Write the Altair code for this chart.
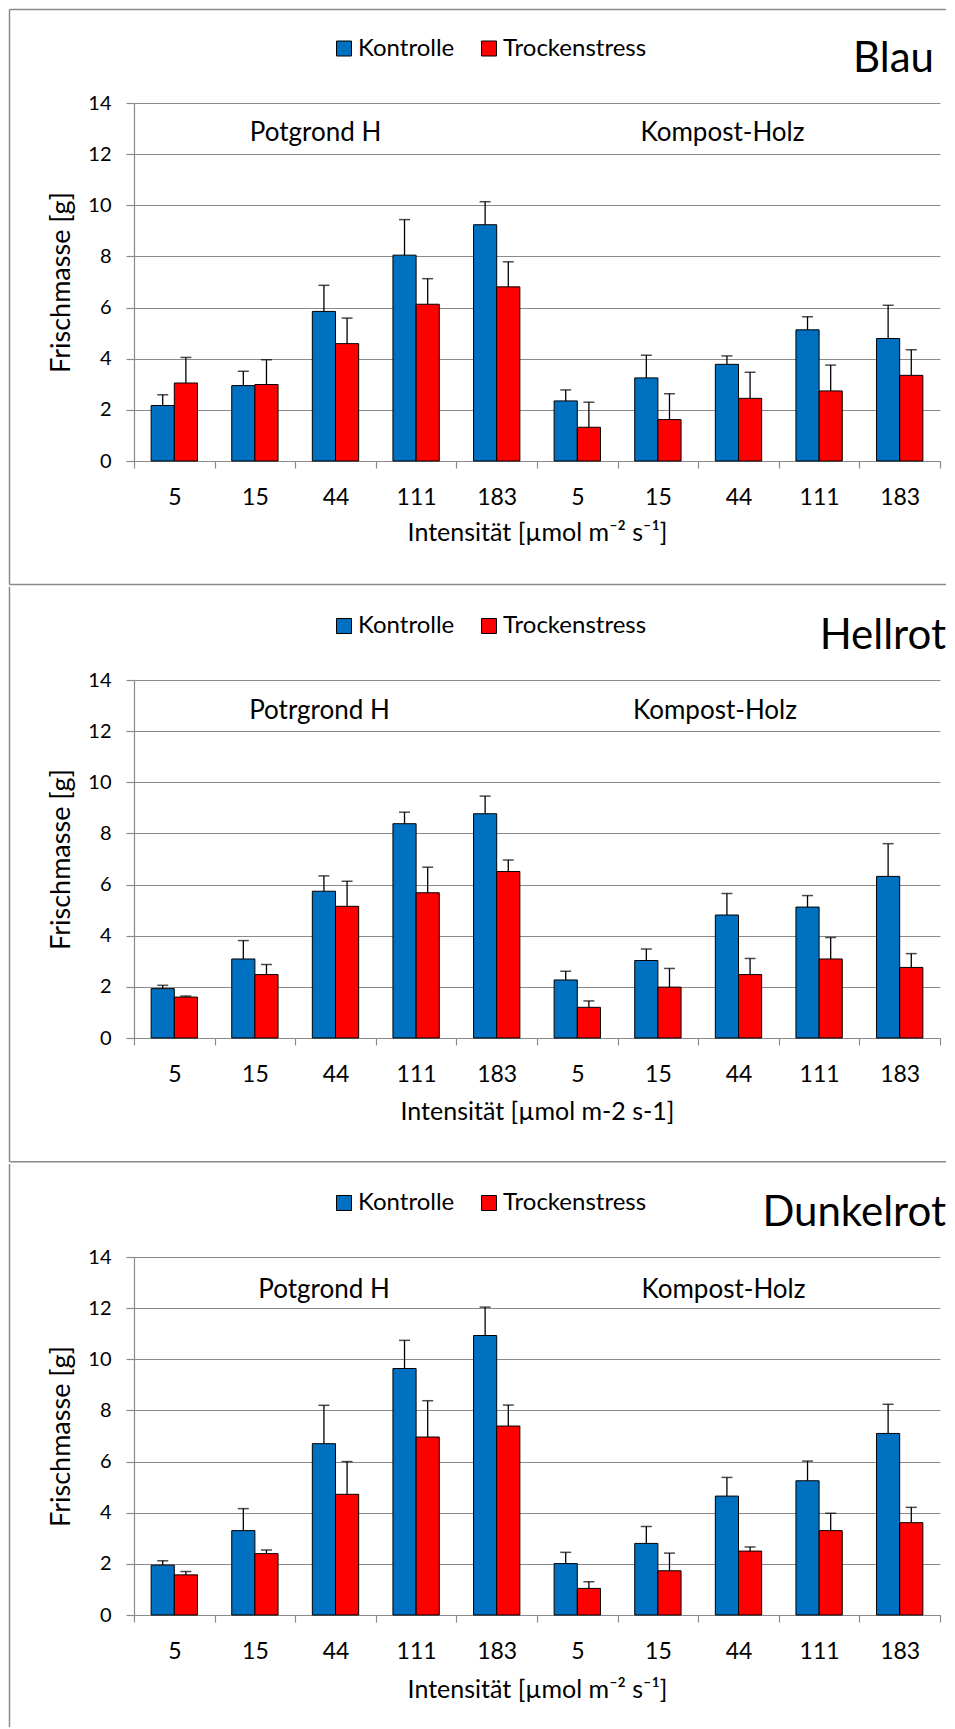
import altair as alt
import pandas as pd

positions = ["P-5", "P-15", "P-44", "P-111", "P-183", "K-5", "K-15", "K-44", "K-111", "K-183"]
groups = ["Kontrolle", "Trockenstress"]
colors = ["#0070C0", "#FF0000"]

blau_k = [2.17, 2.95, 5.85, 8.05, 9.24, 2.35, 3.25, 3.78, 5.13, 4.79]
blau_k_err = [0.42, 0.56, 1.02, 1.39, 0.90, 0.43, 0.89, 0.33, 0.51, 1.30]
blau_t = [3.05, 2.99, 4.59, 6.13, 6.81, 1.32, 1.62, 2.45, 2.74, 3.35]
blau_t_err = [1.00, 0.97, 1.00, 1.00, 0.98, 0.98, 1.01, 1.02, 1.01, 1.00]

hell_k = [1.93, 3.09, 5.74, 8.38, 8.77, 2.27, 3.03, 4.81, 5.12, 6.32]
hell_k_err = [0.13, 0.72, 0.60, 0.45, 0.69, 0.34, 0.45, 0.84, 0.45, 1.28]
hell_t = [1.60, 2.48, 5.15, 5.68, 6.51, 1.20, 1.99, 2.48, 3.09, 2.76]
hell_t_err = [0.04, 0.39, 0.98, 1.00, 0.45, 0.25, 0.73, 0.63, 0.84, 0.54]

dunkel_k = [1.95, 3.30, 6.70, 9.64, 10.93, 2.01, 2.80, 4.65, 5.25, 7.10]
dunkel_k_err = [0.17, 0.86, 1.50, 1.10, 1.11, 0.44, 0.66, 0.73, 0.77, 1.14]
dunkel_t = [1.57, 2.40, 4.72, 6.96, 7.39, 1.04, 1.73, 2.50, 3.30, 3.61]
dunkel_t_err = [0.13, 0.14, 1.28, 1.42, 0.82, 0.26, 0.69, 0.16, 0.68, 0.60]

FONT = "Lato"
GRAY = "#8a8a8a"
W = 806
H = 358
LEFT = -124.5
RIGHT = 812


def panel(kv, ke, tv, te, title, ty, glabels, xtitle, xtitle_y, legend_y,
          border_top, border_bottom, draw_top, draw_bottom):
    rows = []
    for i, p in enumerate(positions):
        rows.append(dict(pos=p, grp=groups[0], val=kv[i], err=ke[i]))
        rows.append(dict(pos=p, grp=groups[1], val=tv[i], err=te[i]))
    df = pd.DataFrame(rows)
    base = alt.Chart(df).transform_calculate(top="datum.val + datum.err")

    xscale = alt.Scale(domain=positions, paddingInner=0, paddingOuter=0)
    x = alt.X("pos:N", sort=positions, scale=xscale, title=xtitle,
              axis=alt.Axis(labelExpr="split(datum.label, '-')[1]", labelAngle=0,
                            tickBand="extent", tickSize=7, tickColor=GRAY, tickWidth=1.2,
                            domainColor=GRAY, domainWidth=1.2, grid=False,
                            labelFont=FONT, labelFontSize=23, labelColor="black",
                            labelPadding=36, labelBaseline="alphabetic",
                            titleFont=FONT, titleFontSize=25, titleFontWeight="normal",
                            titleColor="black", titleY=xtitle_y, titleBaseline="alphabetic"))
    xo = alt.XOffset("grp:N", scale=alt.Scale(domain=groups, paddingInner=0, paddingOuter=0.74))
    y = alt.Y("val:Q", scale=alt.Scale(domain=[0, 14], nice=False), title="Frischmasse [g]",
              axis=alt.Axis(values=list(range(0, 15, 2)), grid=True, gridColor=GRAY,
                            gridWidth=1.2, domainColor=GRAY, domainWidth=1.2,
                            tickColor=GRAY, tickSize=8, tickWidth=1.2,
                            labelFont=FONT, labelFontSize=20, labelColor="black",
                            labelPadding=15, titleFont=FONT, titleFontSize=27,
                            titleFontWeight="normal", titleColor="black", titleAngle=270,
                            titleX=-73, titleY=H / 2, titleAlign="center",
                            titleBaseline="middle"))

    one = pd.DataFrame({"a": [0]})
    frame = [
        alt.Chart(one).mark_rule(color=GRAY, strokeWidth=1.5).encode(
            x=alt.value(LEFT), y=alt.value(border_top), y2=alt.value(border_bottom)),
    ]
    if draw_top:
        frame.append(alt.Chart(one).mark_rule(color=GRAY, strokeWidth=1.5).encode(
            x=alt.value(LEFT), x2=alt.value(RIGHT), y=alt.value(border_top)))
    if draw_bottom:
        frame.append(alt.Chart(one).mark_rule(color=GRAY, strokeWidth=1.5).encode(
            x=alt.value(LEFT), x2=alt.value(RIGHT), y=alt.value(border_bottom)))

    bars = base.mark_bar(stroke="black", strokeWidth=1).encode(
        x=x, xOffset=xo, y=y,
        color=alt.Color("grp:N", scale=alt.Scale(domain=groups, range=colors),
                        legend=alt.Legend(orient="none", legendX=198, legendY=legend_y,
                                          direction="horizontal", title=None,
                                          symbolType="square", symbolSize=225,
                                          symbolStrokeColor="black", symbolStrokeWidth=1,
                                          labelFont=FONT, labelFontSize=24,
                                          labelColor="black", columnPadding=22,
                                          labelOffset=2, padding=0)))
    rules = base.mark_rule(color="black", strokeWidth=1.3).encode(
        x=alt.X("pos:N", sort=positions), xOffset=alt.XOffset("grp:N"),
        y="val:Q", y2="top:Q")
    caps = base.mark_tick(color="black", orient="horizontal", size=11, thickness=1.5).encode(
        x=alt.X("pos:N", sort=positions), xOffset=alt.XOffset("grp:N"), y="top:Q")

    layers = frame + [bars, rules, caps]
    for label, pos, dx, yv in glabels:
        layers.append(
            alt.Chart(pd.DataFrame({"label": [label], "pos": [pos], "v": [yv]}))
            .mark_text(font=FONT, fontSize=26, color="black", dx=dx, baseline="alphabetic")
            .encode(x=alt.X("pos:N", sort=positions), y="v:Q", text="label:N"))
    tx = 800 if title == "Blau" else RIGHT
    layers.append(
        alt.Chart(pd.DataFrame({"t": [title]}))
        .mark_text(font=FONT, fontSize=42, color="black", align="right", baseline="alphabetic")
        .encode(x=alt.value(tx), y=alt.value(ty), text="t:N"))
    return alt.layer(*layers).properties(width=W, height=H)


p1 = panel(blau_k, blau_k_err, blau_t, blau_t_err, "Blau", -31,
           [("Potgrond H", "P-44", -20, 12.53), ("Kompost-Holz", "K-44", -16, 12.53)],
           "Intensität [µmol m⁻² s⁻¹]", 79, -66.5, -93.5, 481.4, True, True)
p2 = panel(hell_k, hell_k_err, hell_t, hell_t_err, "Hellrot", -30.6,
           [("Potrgrond H", "P-44", -16, 12.47), ("Kompost-Holz", "K-44", -23.5, 12.47)],
           "Intensität [µmol m-2 s-1]", 81, -66, -93.15, 481.7, False, True)
p3 = panel(dunkel_k, dunkel_k_err, dunkel_t, dunkel_t_err, "Dunkelrot", -30.6,
           [("Potgrond H", "P-44", -11.5, 12.41), ("Kompost-Holz", "K-44", -15, 12.41)],
           "Intensität [µmol m⁻² s⁻¹]", 82, -66, -93.0, 470, False, False)

chart = alt.vconcat(p1, p2, p3, spacing=0).resolve_scale(
    x="independent", y="independent", color="independent"
).resolve_legend(color="independent").properties(padding=0).configure_view(stroke=None)

chart.save("out.html", embed_options={"renderer": "svg", "actions": False})
